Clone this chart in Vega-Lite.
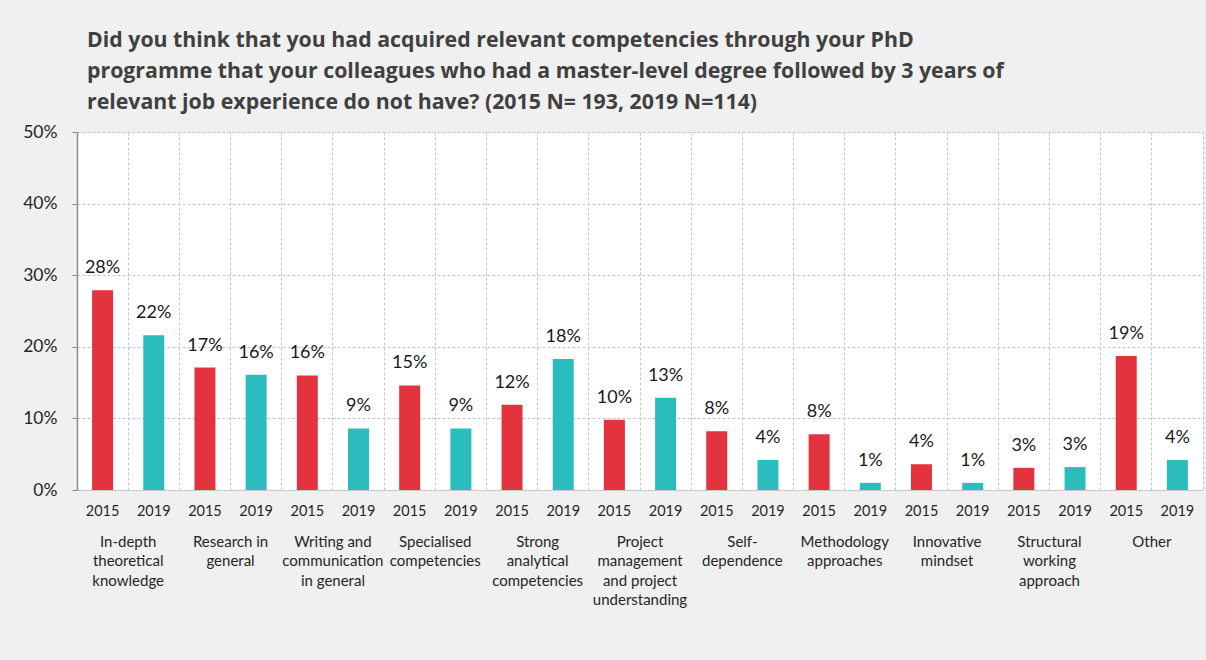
{
  "$schema": "https://vega.github.io/schema/vega-lite/v6.json",
  "width": 1126,
  "height": 358,
  "autosize": {"type": "none"},
  "padding": {"left": 77, "top": 132, "right": 3, "bottom": 170},
  "background": "#f0f0f0",
  "title": {
    "text": [
      "Did you think that you had acquired relevant competencies through your PhD",
      "programme that your colleagues who had a master-level degree followed by 3 years of",
      "relevant job experience do not have? (2015 N= 193, 2019 N=114)"
    ],
    "anchor": "start",
    "frame": "group",
    "dx": 10,
    "offset": 10,
    "font": "Open Sans",
    "fontSize": 21.3,
    "fontWeight": "bold",
    "color": "#404040",
    "lineHeight": 31
  },
  "data": {
    "values": [
      {"cat": "In-depth\ntheoretical\nknowledge", "year": "2015", "k": "01|2015", "v": 27.9},
      {"cat": "In-depth\ntheoretical\nknowledge", "year": "2019", "k": "01|2019", "v": 21.6},
      {"cat": "Research in\ngeneral", "year": "2015", "k": "02|2015", "v": 17.1},
      {"cat": "Research in\ngeneral", "year": "2019", "k": "02|2019", "v": 16.1},
      {"cat": "Writing and\ncommunication\nin general", "year": "2015", "k": "03|2015", "v": 16.0},
      {"cat": "Writing and\ncommunication\nin general", "year": "2019", "k": "03|2019", "v": 8.6},
      {"cat": "Specialised\ncompetencies", "year": "2015", "k": "04|2015", "v": 14.6},
      {"cat": "Specialised\ncompetencies", "year": "2019", "k": "04|2019", "v": 8.6},
      {"cat": "Strong\nanalytical\ncompetencies", "year": "2015", "k": "05|2015", "v": 11.9},
      {"cat": "Strong\nanalytical\ncompetencies", "year": "2019", "k": "05|2019", "v": 18.3},
      {"cat": "Project\nmanagement\nand project\nunderstanding", "year": "2015", "k": "06|2015", "v": 9.8},
      {"cat": "Project\nmanagement\nand project\nunderstanding", "year": "2019", "k": "06|2019", "v": 12.9},
      {"cat": "Self-\ndependence", "year": "2015", "k": "07|2015", "v": 8.2},
      {"cat": "Self-\ndependence", "year": "2019", "k": "07|2019", "v": 4.2},
      {"cat": "Methodology\napproaches", "year": "2015", "k": "08|2015", "v": 7.8},
      {"cat": "Methodology\napproaches", "year": "2019", "k": "08|2019", "v": 1.0},
      {"cat": "Innovative\nmindset", "year": "2015", "k": "09|2015", "v": 3.6},
      {"cat": "Innovative\nmindset", "year": "2019", "k": "09|2019", "v": 1.0},
      {"cat": "Structural\nworking\napproach", "year": "2015", "k": "10|2015", "v": 3.1},
      {"cat": "Structural\nworking\napproach", "year": "2019", "k": "10|2019", "v": 3.2},
      {"cat": "Other", "year": "2015", "k": "11|2015", "v": 18.7},
      {"cat": "Other", "year": "2019", "k": "11|2019", "v": 4.2}
    ]
  },
  "transform": [
    {"calculate": "format(datum.v, '.0f') + '%'", "as": "lbl"}
  ],
  "layer": [
    {
      "encoding": {
        "x": {
          "field": "k",
          "type": "nominal",
          "sort": null,
          "scale": {"paddingInner": 0.59, "paddingOuter": 0.295},
          "axis": {
            "orient": "bottom",
            "title": null,
            "labelExpr": "split(datum.label, '|')[1]",
            "labelAngle": 0,
            "labelFont": "Lato",
            "labelFontSize": 14.5,
            "labelColor": "#262626",
            "labelPadding": 14,
            "ticks": false,
            "domain": false,
            "grid": false
          }
        },
        "y": {
          "field": "v",
          "type": "quantitative",
          "scale": {"domain": [0, 50]},
          "axis": {
            "title": null,
            "values": [0, 10, 20, 30, 40, 50],
            "labelExpr": "datum.value + '%'",
            "labelFont": "Lato",
            "labelFontSize": 17.5,
            "labelColor": "#262626",
            "labelPadding": 15,
            "tickSize": 5,
            "tickColor": "#8c8c8c",
            "domainColor": "#8c8c8c",
            "domainWidth": 1.5,
            "grid": true,
            "gridColor": "#c6c6c6",
            "gridDash": [3, 2]
          }
        }
      },
      "layer": [
        {
          "mark": {"type": "bar"},
          "encoding": {
            "color": {
              "field": "year",
              "type": "nominal",
              "scale": {"domain": ["2015", "2019"], "range": ["#e2333f", "#2bbdbd"]},
              "legend": null
            }
          }
        },
        {
          "mark": {"type": "text", "baseline": "alphabetic", "dy": -17, "font": "Lato", "fontSize": 18, "color": "#1a1a1a"},
          "encoding": {"text": {"field": "lbl"}}
        }
      ]
    },
    {
      "mark": {"type": "tick", "opacity": 0},
      "encoding": {
        "x": {
          "field": "cat",
          "type": "nominal",
          "sort": null,
          "scale": {"paddingInner": 0, "paddingOuter": 0},
          "axis": {
            "orient": "bottom",
            "title": null,
            "labelExpr": "split(datum.label, '\\n')",
            "labelAngle": 0,
            "labelFont": "Lato",
            "labelFontSize": 15,
            "labelLineHeight": 19.5,
            "labelColor": "#262626",
            "labelPadding": 44,
            "labelLimit": 200,
            "ticks": false,
            "domain": false,
            "grid": false
          }
        },
        "y": {"field": "v", "type": "quantitative"}
      }
    },
    {
      "mark": {"type": "tick", "opacity": 0},
      "encoding": {
        "x": {
          "field": "k",
          "type": "nominal",
          "sort": null,
          "scale": {"paddingInner": 0, "paddingOuter": 0},
          "axis": {
            "orient": "bottom",
            "title": null,
            "labels": false,
            "ticks": false,
            "domain": false,
            "grid": true,
            "bandPosition": 0,
            "gridColor": "#c6c6c6",
            "gridDash": [3, 2]
          }
        },
        "y": {"field": "v", "type": "quantitative"}
      }
    }
  ],
  "resolve": {"scale": {"x": "independent"}, "axis": {"x": "independent"}},
  "config": {
    "view": {"fill": "white", "stroke": "#c6c6c6", "strokeDash": [3, 2]}
  }
}
